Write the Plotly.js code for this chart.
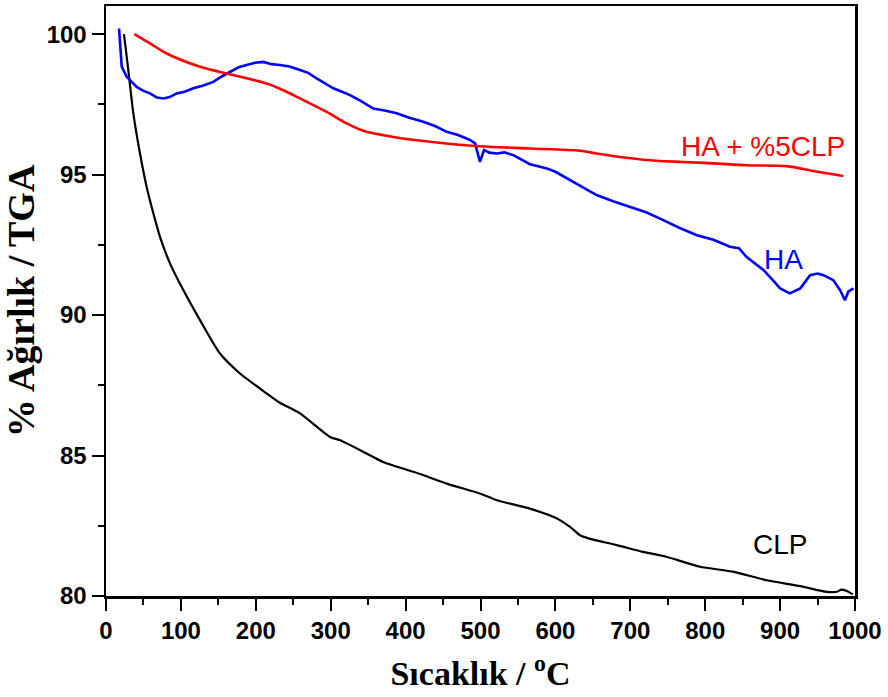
<!DOCTYPE html>
<html>
<head>
<meta charset="utf-8">
<script src="https://cdn.plot.ly/plotly-3.0.1.min.js"></script>
<style>html,body{margin:0;padding:0;background:#fff;}#chart{width:888px;height:697px;}</style>
</head>
<body>
<div id="chart"></div>
<script>
// CLP (black)
const clpX = [24, 29.8, 36.5, 45.4, 54.3, 63.2, 72.1, 85.4, 103.2, 125.5, 152.2, 178.9, 214.5, 232, 259, 299, 312, 348, 370, 424, 455, 499, 522, 566, 597, 606, 620, 633, 644, 682, 717, 749, 793, 838, 882, 927, 962, 976, 982, 989, 997];
const clpY = [100, 98.72, 97.18, 95.75, 94.56, 93.62, 92.78, 91.84, 90.89, 89.82, 88.63, 87.92, 87.21, 86.88, 86.5, 85.66, 85.55, 85.07, 84.77, 84.30, 84.0, 83.65, 83.41, 83.11, 82.82, 82.7, 82.45, 82.16, 82.05, 81.81, 81.57, 81.39, 81.04, 80.86, 80.56, 80.35, 80.15, 80.15, 80.23, 80.18, 80.06];

// HA (blue)
const haX = [17.4, 18.7, 21, 27.6, 41, 50, 58.7, 68, 76.5, 85, 94.4, 105, 116.6, 130, 143.3, 155, 165.6, 177, 187.8, 199, 210, 221, 232.3, 245, 259, 270, 281.3, 292, 303.5, 315, 325.8, 340, 356.9, 372, 388, 405, 423.6, 440, 454.9, 470, 486, 492.7, 499.3, 504.7, 512, 521.6, 532, 543.9, 555, 566, 577, 588.4, 600, 612, 633, 655, 677, 700, 722, 744, 766, 789, 811, 833, 845, 855, 866, 878, 890, 900, 913, 927, 940, 950, 958, 971, 980, 986.6, 991, 998];
const haY = [100.2, 99.55, 98.84, 98.48, 98.12, 97.98, 97.89, 97.74, 97.71, 97.76, 97.89, 97.95, 98.07, 98.17, 98.3, 98.5, 98.66, 98.82, 98.9, 98.98, 99.01, 98.93, 98.9, 98.85, 98.72, 98.62, 98.42, 98.25, 98.07, 97.95, 97.83, 97.62, 97.35, 97.28, 97.18, 97.02, 96.88, 96.72, 96.52, 96.41, 96.23, 96.11, 95.45, 95.87, 95.78, 95.75, 95.79, 95.69, 95.52, 95.37, 95.3, 95.22, 95.1, 94.92, 94.6, 94.27, 94.05, 93.85, 93.65, 93.38, 93.1, 92.84, 92.68, 92.43, 92.38, 92.07, 91.85, 91.6, 91.25, 90.95, 90.77, 90.95, 91.42, 91.48, 91.42, 91.24, 90.89, 90.53, 90.83, 90.95];

// HA + %5CLP (red)
const hacX = [37.8, 58.7, 81, 125.5, 170, 214.5, 236.7, 259, 294.6, 321.3, 343.5, 388, 432.6, 499.3, 566, 632.8, 655, 695, 735, 770, 811, 855, 909, 944, 984.4];
const hacY = [100, 99.67, 99.31, 98.84, 98.54, 98.24, 98.0, 97.71, 97.23, 96.82, 96.56, 96.32, 96.17, 96.01, 95.93, 95.85, 95.75, 95.6, 95.49, 95.45, 95.4, 95.33, 95.3, 95.13, 94.95];

const labels = ["HA + %5CLP", "HA", "CLP"];
const labelX = [989, 905, 900];
const labelY = [96.01, 91.99, 81.84];
const labelColors = ["#ff0000", "#0000ff", "#000000"];

const traces = [
  {x: clpX, y: clpY, mode: 'lines', line: {color: '#000000', width: 2.2, shape: 'spline', smoothing: 0.6}, name: 'CLP'},
  {x: haX, y: haY, mode: 'lines', line: {color: '#0000ff', width: 2.6}, name: 'HA'},
  {x: hacX, y: hacY, mode: 'lines', line: {color: '#ff0000', width: 2.6, shape: 'spline', smoothing: 0.8}, name: 'HA + %5CLP'}
];

const annotations = labels.map((t, i) => ({
  x: labelX[i], y: labelY[i], text: t, showarrow: false,
  xanchor: i === 0 ? 'right' : 'center', yanchor: 'middle',
  font: {family: 'Liberation Sans, Arial, sans-serif', size: 28, color: labelColors[i]}
}));

const tickFont = {family: 'Liberation Sans, Arial, sans-serif', size: 24, color: '#000', weight: 'bold'};

const layout = {
  width: 888, height: 697,
  margin: {l: 106, r: 33, t: 6, b: 101},
  paper_bgcolor: '#fff', plot_bgcolor: '#fff',
  showlegend: false,
  xaxis: {
    range: [0, 1000], tick0: 0, dtick: 100,
    ticks: 'outside', ticklen: 12, tickwidth: 2, tickcolor: '#000',
    minor: {dtick: 50, ticks: 'outside', ticklen: 6, tickwidth: 2, tickcolor: '#000'},
    showline: true, linewidth: 2.5, linecolor: '#000', mirror: true,
    showgrid: false, zeroline: false,
    tickfont: tickFont,
    title: {text: 'Sıcaklık / <sup>o</sup>C', standoff: 18,
      font: {family: 'Liberation Serif, Times New Roman, serif', size: 34, color: '#000', weight: 'bold'}}
  },
  yaxis: {
    range: [80, 101], tick0: 80, dtick: 5,
    ticks: 'outside', ticklen: 12, tickwidth: 2, tickcolor: '#000',
    minor: {dtick: 2.5, ticks: 'outside', ticklen: 6, tickwidth: 2, tickcolor: '#000'},
    showline: true, linewidth: 2.5, linecolor: '#000', mirror: true,
    showgrid: false, zeroline: false,
    tickfont: tickFont,
    title: {text: '% Ağırlık / TGA', standoff: 6,
      font: {family: 'Liberation Serif, Times New Roman, serif', size: 38, color: '#000', weight: 'bold'}}
  },
  annotations: annotations
};

Plotly.newPlot('chart', traces, layout, {displayModeBar: false, staticPlot: true});
</script>
</body>
</html>
